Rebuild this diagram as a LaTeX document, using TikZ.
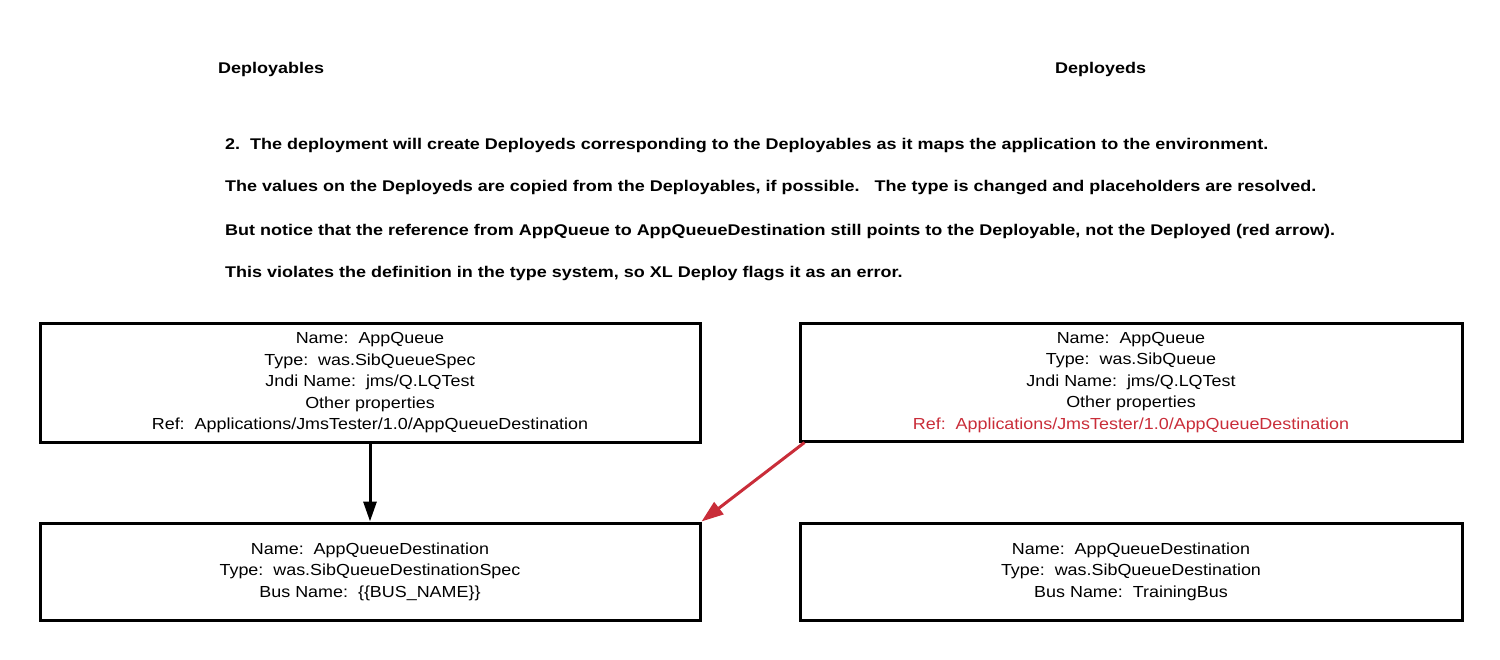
\documentclass[tikz,border=0pt]{standalone}
\usepackage{fontspec}
\setmainfont{Liberation Sans}
\newfontfamily\boxfont[FakeStretch=1.12]{Liberation Sans}
\newfontfamily\parafont[FakeStretch=1.16]{Liberation Sans Bold}
\usetikzlibrary{arrows.meta}
\definecolor{refred}{HTML}{C92D39}
\begin{document}
\begin{tikzpicture}[x=1pt,y=-1pt,
  box/.style={draw=black,line width=3pt,minimum width=660pt,inner sep=0pt,align=center,font=\boxfont\fontsize{16}{21.5}\selectfont},
  head/.style={anchor=west,inner sep=0pt,font=\parafont\fontsize{15.5}{18}\selectfont},
  para/.style={anchor=west,inner sep=0pt,font=\parafont\fontsize{15.5}{18}\selectfont},
  arr/.style={line width=3pt,-{Triangle[length=20pt,width=13pt]}},
  redarr/.style={draw=refred,line width=3pt,-{Triangle[length=22pt,width=15pt]}}]
\useasboundingbox (0,0) rectangle (1500,660);
\node[head] (h1) at (218,69) {Deployables};
\node[head] (h2) at (1055,69) {Deployeds};
\node[para] (p1) at (225,146) {2.\ \ The deployment will create Deployeds corresponding to the Deployables as it maps the application to the environment.};
\node[para] (p2) at (225,188) {The values on the Deployeds are copied from the Deployables, if possible.\ \ \ The type is changed and placeholders are resolved.};
\node[para] (p3) at (225,231) {But notice that the reference from AppQueue to AppQueueDestination still points to the Deployable, not the Deployed (red arrow).};
\node[para] (p4) at (225,274) {This violates the definition in the type system, so XL Deploy flags it as an error.};
\node[box,minimum height=118pt] (q1) at (370,383) {Name:\ \ AppQueue\\Type:\ \ was.SibQueueSpec\\Jndi Name:\ \ jms/Q.LQTest\\Other properties\\Ref:\ \ Applications/JmsTester/1.0/AppQueueDestination};
\node[box,minimum height=97pt] (d1) at (370,571.5) {Name:\ \ AppQueueDestination\\Type:\ \ was.SibQueueDestinationSpec\\Bus Name:\ \ \{\{BUS\_NAME\}\}};
\node[box,minimum height=117pt,minimum width=662pt] (q2) at (1131,382.5) {Name:\ \ AppQueue\\Type:\ \ was.SibQueue\\Jndi Name:\ \ jms/Q.LQTest\\Other properties\\\textcolor{refred}{Ref:\ \ Applications/JmsTester/1.0/AppQueueDestination}};
\node[box,minimum height=97pt,minimum width=662pt] (d2) at (1131,571.5) {Name:\ \ AppQueueDestination\\Type:\ \ was.SibQueueDestination\\Bus Name:\ \ TrainingBus};
\draw[arr] (q1.south) -- (d1.north);
\draw[redarr] ([xshift=6pt]q2.south west) -- (d1.north east);
\end{tikzpicture}
\end{document}
